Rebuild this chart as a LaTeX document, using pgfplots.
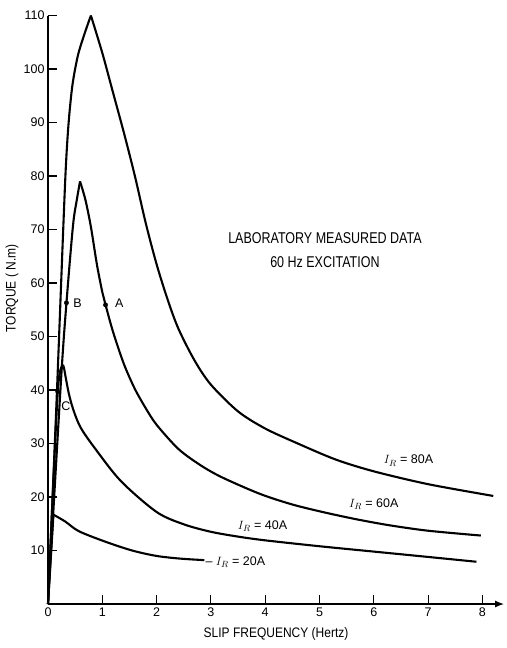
\documentclass[border=0pt]{standalone}
\usepackage{fontspec}
\setmainfont{Liberation Sans}
\usepackage{graphicx}
\usepackage{pgfplots}
\pgfplotsset{compat=1.18}
\usetikzlibrary{arrows.meta}
\begin{document}
\begin{tikzpicture}
\begin{axis}[
  x=54.3pt, y=5.35pt,
  xmin=0, xmax=8.4, ymin=0, ymax=110,
  axis x line=bottom, axis y line=left,
  axis line style={line width=1.4pt, black},
  x axis line style={-{Latex[length=9pt,width=7pt]}},
  y axis line style={-},
  xtick={0,1,...,8}, ytick={10,20,...,110},
  tick align=inside,
  major tick length=9pt,
  tick style={black, line width=1.1pt},
  ticklabel style={font=\fontsize{12.5}{13}\selectfont},
  /pgf/number format/assume math mode=true,
  clip=false,
]
% invisible frame matching reference canvas
\path (axis cs:-0.884,112.9) rectangle (axis cs:8.435,-8.22);

% I_R = 80A
\addplot[black, line width=2.1pt, smooth, tension=0.5] coordinates {
 (0,0) (0.15,36) (0.28,70) (0.33,82) (0.38,90) (0.45,97) (0.55,102.5) (0.67,106.5) (0.79,110)};
\addplot[black, line width=2.1pt, smooth, tension=0.5] coordinates {
 (0.79,110) (1.0,103) (1.2,95.5) (1.4,88) (1.6,80) (1.8,71.2) (2.0,63.5) (2.2,57) (2.4,51.5)
 (2.7,45.5) (3.0,41) (3.5,36) (4.0,32.8) (4.6,30) (5.3,27) (6.0,24.8) (7.0,22.4) (8.2,20.2)};
% I_R = 60A
\addplot[black, line width=2.1pt, smooth, tension=0.5] coordinates {
 (0,0) (0.24,41.9) (0.34,56.3) (0.46,70.7) (0.53,75.5) (0.59,79.0)};
\addplot[black, line width=2.1pt, smooth, tension=0.5] coordinates {
 (0.59,79.0) (0.69,75.5) (0.79,70.5) (0.9,63.5) (1.0,58.3) (1.06,55.9) (1.2,50.8) (1.4,44.8) (1.6,40.2)
 (1.8,36.6) (2.0,33.5) (2.4,29) (2.8,26) (3.2,23.7) (3.9,20.6) (4.5,18.6) (5.1,17.1) (5.7,15.8) (6.3,14.7)
 (7.0,13.7) (7.97,12.8)};
% I_R = 40A
\addplot[black, line width=2.1pt, smooth, tension=0.5] coordinates {
 (0,0) (0.18,39.7) (0.29,44.4)};
\addplot[black, line width=2.1pt, smooth, tension=0.5] coordinates {
 (0.29,44.4) (0.38,39.5) (0.47,36.2) (0.6,33.0) (0.85,29.3) (1.34,23.0) (2.0,17.2) (2.5,14.9)
 (3.0,13.5) (3.5,12.6) (4.0,11.9) (5.0,10.8) (6.0,9.8) (7.0,8.8) (7.89,7.9)};
% I_R = 20A
\addplot[black, line width=2.1pt] coordinates {(0,0) (0.10,16.7)};
\addplot[black, line width=2.1pt, smooth, tension=0.5] coordinates {
 (0.10,16.7) (0.32,15.4) (0.57,13.6) (1.07,11.6) (1.55,10.0) (1.99,9.0) (2.42,8.5) (2.88,8.2)};

% points A, B, C
\addplot[only marks, mark=*, mark size=2.2pt, black] coordinates {(1.06,55.9) (0.34,56.3) (0.18,39.7)};

\node[font=\fontsize{12.5}{13}\selectfont, anchor=west] at (axis cs:1.17,56.2) {A};
\node[font=\fontsize{12.5}{13}\selectfont, anchor=west] at (axis cs:0.40,56.3) {B};
\node[font=\fontsize{12.5}{13}\selectfont] at (axis cs:0.33,37.0) {C};

\node[font=\fontsize{12.5}{14}\selectfont] at (axis cs:5.1,68.4) {\scalebox{1}[1.25]{LABORATORY MEASURED DATA}};
\node[font=\fontsize{12.5}{14}\selectfont] at (axis cs:5.1,63.9) {\scalebox{1}[1.25]{60 Hz EXCITATION}};

\node[font=\fontsize{12.5}{13}\selectfont] at (axis cs:6.64,26.8) {$I_R$ = 80A};
\node[font=\fontsize{12.5}{13}\selectfont] at (axis cs:6.0,18.7) {$I_R$ = 60A};
\node[font=\fontsize{12.5}{13}\selectfont] at (axis cs:3.95,14.5) {$I_R$ = 40A};
\node[font=\fontsize{12.5}{13}\selectfont] at (axis cs:3.45,7.9) {-- $I_R$ = 20A};

\node[font=\fontsize{12}{13}\selectfont] at (axis cs:4.2,-5.6) {\scalebox{1}[1.15]{SLIP FREQUENCY (Hertz)}};
\node[font=\fontsize{12}{13}\selectfont, rotate=90] at (axis cs:-0.66,59) {\scalebox{1}[1.15]{TORQUE ( N.m)}};
\end{axis}
\end{tikzpicture}
\end{document}
